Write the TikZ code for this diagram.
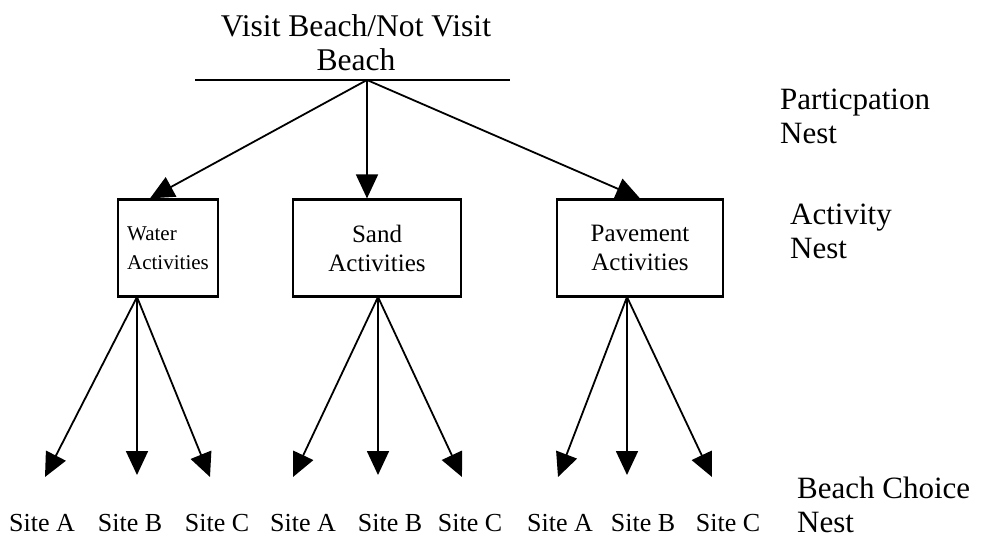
\documentclass[tikz,border=0pt]{standalone}
\usepackage{fontspec}
\setmainfont{Liberation Serif}
\usetikzlibrary{arrows.meta}
\begin{document}
\begin{tikzpicture}[x=1pt,y=-1pt,
  conn/.style={line width=1.8pt,-{Triangle[length=24pt,width=22pt]}},
  actbox/.style={draw,line width=2.2pt,minimum height=97pt,align=center,inner sep=0pt,font=\fontsize{25}{29}\selectfont},
  site/.style={font=\fontsize{26}{30}\selectfont,inner sep=0pt,anchor=base},
  lbl/.style={font=\fontsize{31}{34}\selectfont,align=left,anchor=north west,inner sep=0pt},
  toptext/.style={font=\fontsize{31.6}{34}\selectfont,align=center,anchor=north,inner sep=0pt}]
\useasboundingbox (0,0) rectangle (983,540);

% top
\node[toptext] (top) at (356,14) {Visit Beach/Not Visit\\Beach};
\coordinate (barL) at (195,80);
\coordinate (barR) at (510,80);
\coordinate (apex) at (367,80);
\draw[line width=1.8pt] (barL) -- (barR);

% right labels
\node[lbl] (part) at (780,89) {Particpation\\Nest};
\node[lbl] (act) at (790,204) {Activity\\Nest};
\node[lbl] (choice) at (797,477) {Beach Choice\\Nest};

% boxes
\node[actbox,minimum width=100pt,align=left,font=\fontsize{21}{29}\selectfont] (water) at (168,248) {Water\\Activities};
\node[actbox,minimum width=168pt] (sand) at (377,248) {Sand\\Activities};
\node[actbox,minimum width=166pt] (pave) at (640,248) {Pavement\\Activities};

\draw[conn] (apex) -- (water.north -| 150,0);
\draw[conn] (apex) -- (sand.north -| 367,0);
\draw[conn] (apex) -- (pave.north -| 640,0);

% origins at box bottoms
\coordinate (wo) at (137,297);
\coordinate (so) at (378,297);
\coordinate (po) at (627,297);

% site labels
\node[site] (wa) at (42,531) {Site A};
\node[site] (wb) at (130,531) {Site B};
\node[site] (wc) at (217,531) {Site C};
\node[site] (sa) at (303,531) {Site A};
\node[site] (sb) at (390,531) {Site B};
\node[site] (sc) at (470,531) {Site C};
\node[site] (pa) at (560,531) {Site A};
\node[site] (pb) at (643,531) {Site B};
\node[site] (pc) at (728,531) {Site C};

% arrow tips
\coordinate (twa) at (45,477);
\coordinate (twb) at (137,475);
\coordinate (twc) at (210,477);
\coordinate (tsa) at (293,477);
\coordinate (tsb) at (378,475);
\coordinate (tsc) at (462,477);
\coordinate (tpa) at (558,477);
\coordinate (tpb) at (627,475);
\coordinate (tpc) at (712,477);

\draw[conn] (wo) -- (twa);
\draw[conn] (wo) -- (twb);
\draw[conn] (wo) -- (twc);
\draw[conn] (so) -- (tsa);
\draw[conn] (so) -- (tsb);
\draw[conn] (so) -- (tsc);
\draw[conn] (po) -- (tpa);
\draw[conn] (po) -- (tpb);
\draw[conn] (po) -- (tpc);
\end{tikzpicture}
\end{document}
